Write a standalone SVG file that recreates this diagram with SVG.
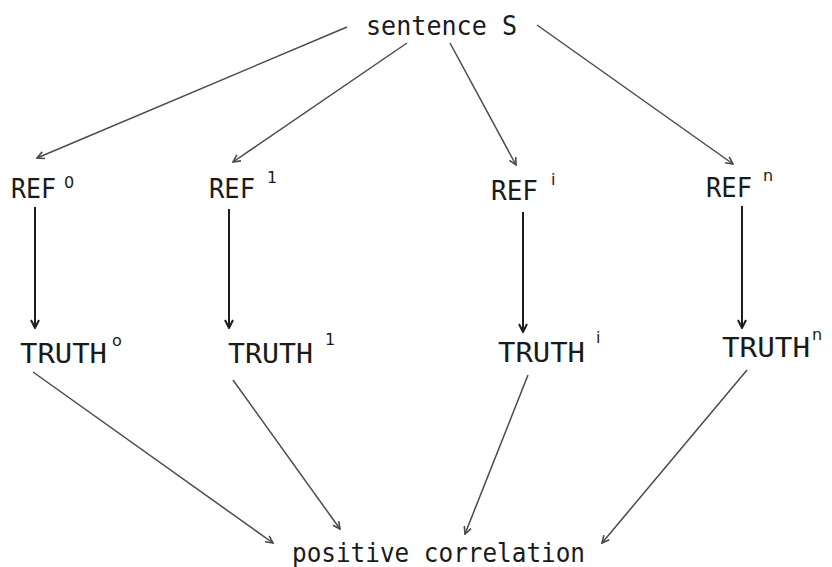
<svg xmlns="http://www.w3.org/2000/svg" width="832" height="567" viewBox="0 0 832 567">
<defs>
<style>
.t{font-family:"DejaVu Sans Mono","Liberation Mono",monospace;fill:#1a1a1a}
.m{font-size:27px}
.s{font-size:16px;font-family:"DejaVu Sans","Liberation Sans",sans-serif}
.d{stroke:#4a4a4a;stroke-width:1.5;fill:none}
.v{stroke:#1e1e1e;stroke-width:2;fill:none}
</style>
<marker id="ah" viewBox="0 0 10 10" refX="9" refY="5" markerWidth="9" markerHeight="9" markerUnits="userSpaceOnUse" orient="auto">
<path d="M1,1 L9,5 L1,9" fill="none" stroke="#4a4a4a" stroke-width="1.8"/>
</marker>
<marker id="av" viewBox="0 0 10 10" refX="9" refY="5" markerWidth="10" markerHeight="10" markerUnits="userSpaceOnUse" orient="auto">
<path d="M1,1 L9,5 L1,9" fill="none" stroke="#1e1e1e" stroke-width="2"/>
</marker>
</defs>
<rect width="832" height="567" fill="#ffffff"/>
<g id="connectors">
<line class="d" x1="347" y1="27" x2="37" y2="158" marker-end="url(#ah)"/>
<line class="d" x1="407" y1="43" x2="233" y2="162" marker-end="url(#ah)"/>
<line class="d" x1="450" y1="43" x2="516" y2="165" marker-end="url(#ah)"/>
<line class="d" x1="537" y1="25" x2="733" y2="164" marker-end="url(#ah)"/>
<line class="v" x1="35" y1="207" x2="35" y2="328" marker-end="url(#av)"/>
<line class="v" x1="229" y1="209" x2="229" y2="328" marker-end="url(#av)"/>
<line class="v" x1="523" y1="212" x2="523" y2="332" marker-end="url(#av)"/>
<line class="v" x1="742" y1="206" x2="742" y2="328" marker-end="url(#av)"/>
<line class="d" x1="33" y1="372" x2="273" y2="543" marker-end="url(#ah)"/>
<line class="d" x1="233" y1="380" x2="340" y2="529" marker-end="url(#ah)"/>
<line class="d" x1="528" y1="375" x2="465" y2="534" marker-end="url(#ah)"/>
<line class="d" x1="747" y1="370" x2="602" y2="543" marker-end="url(#ah)"/>
</g>
<g id="sentence">
<text class="t m" x="366" y="35" textLength="151" lengthAdjust="spacingAndGlyphs">sentence S</text>
</g>
<g id="ref0">
<text class="t m" x="11" y="198" textLength="45" lengthAdjust="spacingAndGlyphs">REF</text>
<text class="t s" x="64" y="188">0</text>
</g>
<g id="ref1">
<text class="t m" x="209" y="198" textLength="46" lengthAdjust="spacingAndGlyphs">REF</text>
<text class="t s" x="267" y="183">1</text>
</g>
<g id="refi">
<text class="t m" x="491" y="200" textLength="47" lengthAdjust="spacingAndGlyphs">REF</text>
<text class="t s" x="551" y="185">i</text>
</g>
<g id="refn">
<text class="t m" x="706" y="197" textLength="46" lengthAdjust="spacingAndGlyphs">REF</text>
<text class="t s" x="763" y="181">n</text>
</g>
<g id="truth0">
<text class="t m" x="20" y="363" textLength="87" lengthAdjust="spacingAndGlyphs">TRUTH</text>
<text class="t s" x="112" y="346">o</text>
</g>
<g id="truth1">
<text class="t m" x="228" y="363" textLength="85" lengthAdjust="spacingAndGlyphs">TRUTH</text>
<text class="t s" x="325" y="345">1</text>
</g>
<g id="truthi">
<text class="t m" x="498" y="362" textLength="87" lengthAdjust="spacingAndGlyphs">TRUTH</text>
<text class="t s" x="596" y="343">i</text>
</g>
<g id="truthn">
<text class="t m" x="722" y="357" textLength="88" lengthAdjust="spacingAndGlyphs">TRUTH</text>
<text class="t s" x="812" y="340">n</text>
</g>
<g id="positive">
<text class="t m" x="292" y="562" textLength="293" lengthAdjust="spacingAndGlyphs">positive correlation</text>
</g>
</svg>
